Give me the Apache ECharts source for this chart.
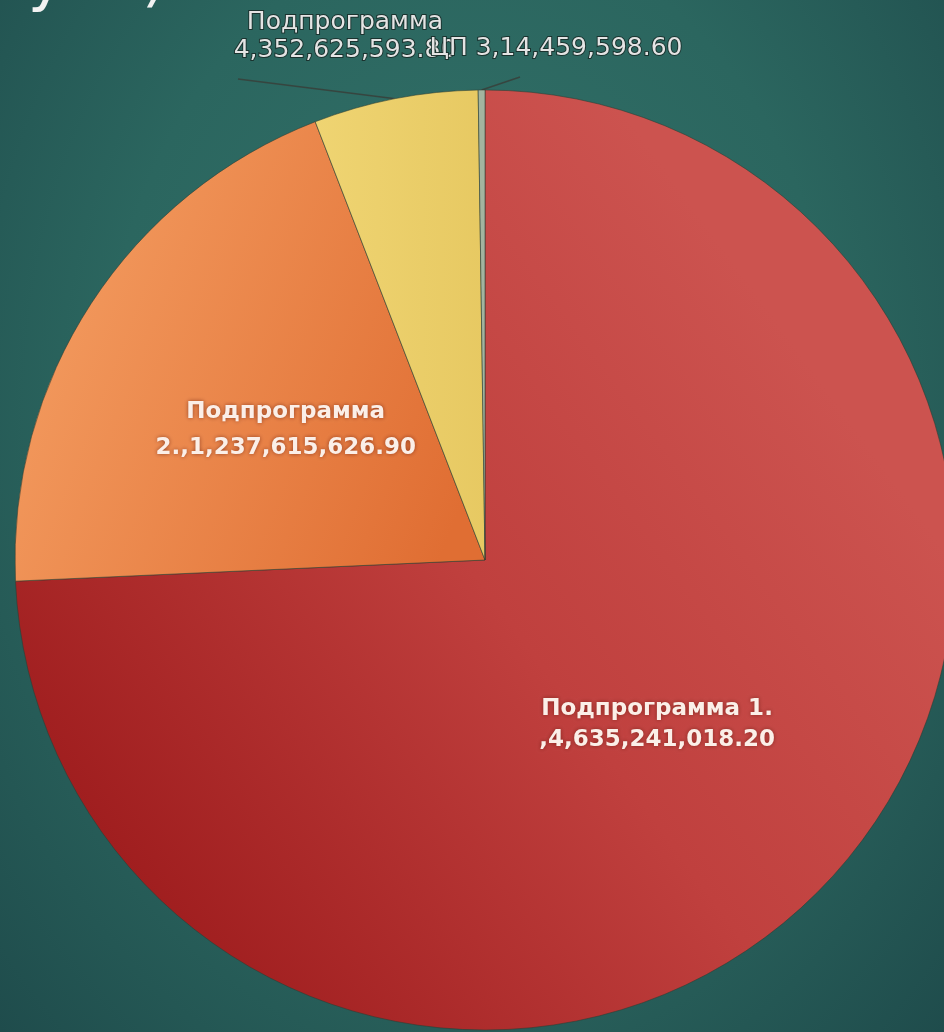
<!DOCTYPE html>
<html>
<head>
<meta charset="utf-8">
<script src="https://cdn.jsdelivr.net/npm/echarts@6/dist/echarts.min.js"></script>
<style>
  html, body { margin: 0; padding: 0; }
  body {
    width: 944px; height: 1032px; overflow: hidden;
    background: radial-gradient(ellipse at 50% 40%, #33726a 0%, #2b665f 55%, #1f4c4c 100%);
  }
  #chart { width: 944px; height: 1032px; }
</style>
</head>
<body>
<div id="chart"></div>
<script>
var names = ['Подпрограмма 1.', 'Подпрограмма 2.', 'Подпрограмма 4', 'ЦП 3'];
var values = [4635241018.20, 1237615626.90, 352625593.80, 14459598.60];
var labels = [
  'Подпрограмма 1.\n,4,635,241,018.20',
  'Подпрограмма\n2.,1,237,615,626.90',
  'Подпрограмма\n4,352,625,593.80',
  'ЦП 3,14,459,598.60'
];

var myChart = echarts.init(document.getElementById('chart'));

var colors = [
  new echarts.graphic.LinearGradient(0.85, 0.3, 0.1, 0.85, [
    {offset: 0, color: '#cc534f'},
    {offset: 0.45, color: '#c0403e'},
    {offset: 1, color: '#9e1c1d'}
  ]),
  new echarts.graphic.LinearGradient(0, 0.3, 1, 0.7, [
    {offset: 0, color: '#f49d61'},
    {offset: 1, color: '#e06e33'}
  ]),
  new echarts.graphic.LinearGradient(0, 0, 1, 0, [
    {offset: 0, color: '#efd472'},
    {offset: 1, color: '#e7c962'}
  ]),
  '#a3b49f'
];

// outer label places for the two thin slices
var outerPos = {
  2: {x: 345, y: 36, end: [238, 79]},
  3: {x: 556, y: 48, end: [520, 77]}
};

var data = values.map(function (v, i) {
  var item = {
    name: names[i],
    value: v,
    itemStyle: {color: colors[i]}
  };
  if (i < 2) {
    item.label = {
      position: 'inside',
      fontFamily: 'DejaVu Sans',
      fontWeight: 'bold',
      fontSize: 23,
      lineHeight: i === 0 ? 31 : 36,
      color: '#fbefe8',
      textShadowColor: 'rgba(90,20,10,0.6)',
      textShadowBlur: 4
    };
    item.labelLine = {show: false};
  } else {
    item.label = {
      position: 'outside',
      fontFamily: 'DejaVu Sans',
      fontSize: 25,
      lineHeight: 28,
      color: '#e4e4e4',
      textBorderColor: 'rgba(25,45,42,0.9)',
      textBorderWidth: 2
    };
  }
  return item;
});

var option = {
  animation: false,
  graphic: [{
    type: 'text',
    style: {
      text: '(млн. руб. ).',
      x: 186,
      y: 14,
      align: 'right',
      verticalAlign: 'bottom',
      fontFamily: 'DejaVu Sans',
      fontSize: 62,
      fill: '#f2f2f2'
    }
  }],
  series: [{
    type: 'pie',
    center: [485, 560],
    radius: 470,
    startAngle: 90,
    clockwise: true,
    avoidLabelOverlap: false,
    itemStyle: {
      borderColor: 'rgba(45,60,50,0.55)',
      borderWidth: 1
    },
    label: {
      formatter: function (p) { return labels[p.dataIndex]; }
    },
    labelLine: {
      show: true,
      length: 5,
      length2: 5,
      lineStyle: {color: 'rgba(55,65,60,0.9)', width: 1.5}
    },
    labelLayout: function (params) {
      var pos = outerPos[params.dataIndex];
      if (!pos) return {};
      var start = params.labelLinePoints ? params.labelLinePoints[0] : pos.end;
      return {
        x: pos.x,
        y: pos.y,
        align: 'center',
        verticalAlign: 'middle',
        labelLinePoints: [start, pos.end, pos.end]
      };
    },
    emphasis: {disabled: true},
    data: data
  }]
};
myChart.setOption(option);
</script>
</body>
</html>
